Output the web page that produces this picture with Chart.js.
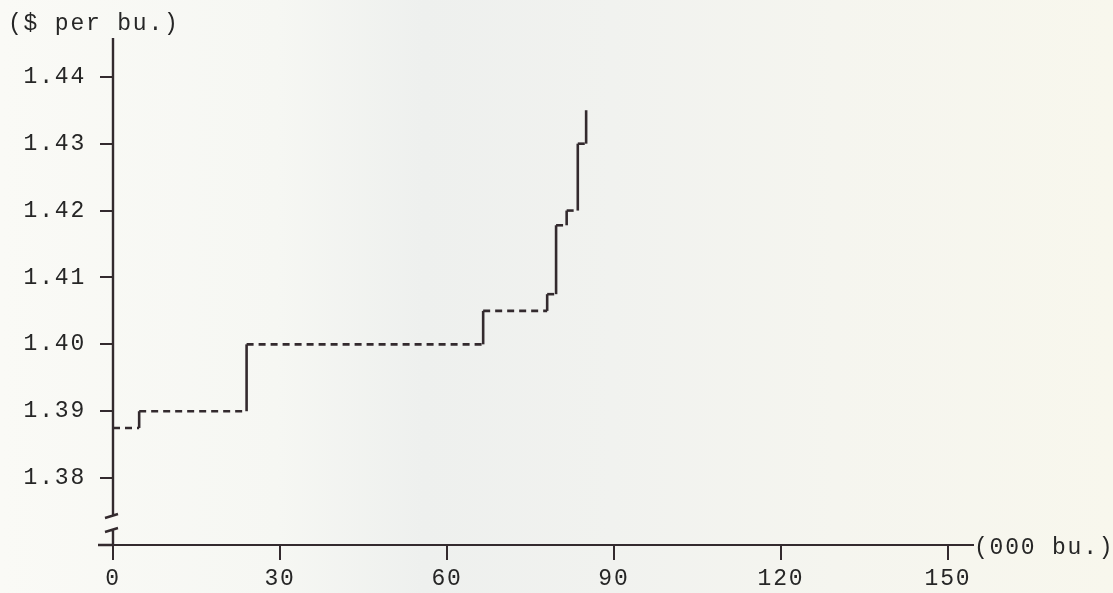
<!DOCTYPE html>
<html>
<head>
<meta charset="utf-8">
<script src="https://cdn.jsdelivr.net/npm/chart.js@4/dist/chart.umd.min.js"></script>
<style>
    html, body { margin: 0; padding: 0; }
    body {
        width: 1113px;
        height: 593px;
        overflow: hidden;
        background: linear-gradient(to right, #fafaf6 0%, #f6f7f3 25%, #eef0ee 38%, #f1f2ef 55%, #f5f5ef 75%, #f8f7ed 100%);
    }
    #wadah { position: relative; width: 1113px; height: 593px; }
</style>
</head>
<body>
<div id="wadah"><canvas id="chartPenawaran"></canvas></div>
<script>
// titik awal tiap anak tangga (000 bu.) dan harga yang berlaku mulai titik itu
const quantities = [0, 4.7, 24, 66.5, 78, 79.6, 81.5, 83.5, 85];
const prices = [1.3875, 1.39, 1.40, 1.405, 1.4075, 1.4178, 1.42, 1.43, 1.435];
const xTicks = [0, 30, 60, 90, 120, 150];
const yTicks = [1.38, 1.39, 1.40, 1.41, 1.42, 1.43, 1.44];

const warnaGaris = "#332a2e";
const warnaTeks = "#262626";
const hurufTik = { family: "'Liberation Mono', monospace", size: 23 };

// sudut-sudut kurva tangga
const titik = [{ x: quantities[0], y: prices[0] }];
for (let i = 1; i < quantities.length; i++) {
    titik.push({ x: quantities[i], y: prices[i - 1] });
    titik.push({ x: quantities[i], y: prices[i] });
}

/** Sumbu Y patah, perpanjangan sumbu X dan label satuan */
const hiasanSumbu = {
    id: "hiasanSumbu",
    beforeDraw(chart) {
        chart.ctx.letterSpacing = "1.8px";
    },
    afterDraw(chart) {
        const { ctx, chartArea, scales } = chart;
        const x0 = scales.x.getPixelForValue(0);
        const patahAtas = chartArea.bottom - 29;
        const patahBawah = chartArea.bottom - 15;

        ctx.save();
        ctx.strokeStyle = warnaGaris;
        ctx.lineWidth = 2.4;
        ctx.beginPath();
        ctx.moveTo(x0, chartArea.top);
        ctx.lineTo(x0, patahAtas);
        ctx.moveTo(x0, patahBawah);
        ctx.lineTo(x0, chartArea.bottom);
        // tanda patah
        ctx.moveTo(x0 - 8, patahAtas + 2);
        ctx.lineTo(x0 + 5, patahAtas - 2);
        ctx.moveTo(x0 - 8, patahBawah + 2);
        ctx.lineTo(x0 + 5, patahBawah - 2);
        // sumbu X sedikit ke kiri
        ctx.moveTo(x0 - 15, chartArea.bottom);
        ctx.lineTo(x0, chartArea.bottom);
        ctx.stroke();

        ctx.letterSpacing = "1.8px";
        ctx.fillStyle = warnaTeks;
        ctx.font = "23px 'Liberation Mono', monospace";
        ctx.textBaseline = "middle";
        ctx.textAlign = "left";
        ctx.fillText("($ per bu.)", 8, 24);
        ctx.fillText("(000 bu.)", chartArea.right + 1, chartArea.bottom + 3);
        ctx.restore();
    }
};

new Chart(document.getElementById("chartPenawaran"), {
    type: "line",
    data: {
        datasets: [{
            data: titik,
            borderColor: warnaGaris,
            borderWidth: 2.6,
            pointRadius: 0,
            fill: false,
            tension: 0,
            segment: {
                borderDash: c => (c.p0.parsed.y === c.p1.parsed.y ? [7, 5] : undefined)
            }
        }]
    },
    options: {
        responsive: true,
        maintainAspectRatio: false,
        animation: false,
        layout: { padding: { left: 0, top: 38, right: 140, bottom: 0 } },
        plugins: {
            legend: { display: false },
            tooltip: { enabled: false }
        },
        scales: {
            x: {
                type: "linear",
                min: 0,
                max: 154.5,
                afterBuildTicks: s => { s.ticks = xTicks.map(v => ({ value: v })); },
                afterFit: s => { s.height = 48; },
                ticks: { font: hurufTik, color: warnaTeks, padding: 5, maxRotation: 0 },
                grid: { drawOnChartArea: false, drawTicks: true, tickLength: 15, color: warnaGaris, lineWidth: 2 },
                border: { display: true, color: warnaGaris, width: 2 }
            },
            y: {
                type: "linear",
                min: 1.37,
                max: 1.4458,
                afterBuildTicks: s => { s.ticks = yTicks.map(v => ({ value: v })); },
                afterFit: s => { s.width = 113; },
                ticks: { font: hurufTik, color: warnaTeks, padding: 14, callback: v => v.toFixed(2) },
                grid: { drawOnChartArea: false, drawTicks: true, tickLength: 13, color: warnaGaris, lineWidth: 2 },
                border: { display: false }
            }
        }
    },
    plugins: [hiasanSumbu]
});
</script>
</body>
</html>
